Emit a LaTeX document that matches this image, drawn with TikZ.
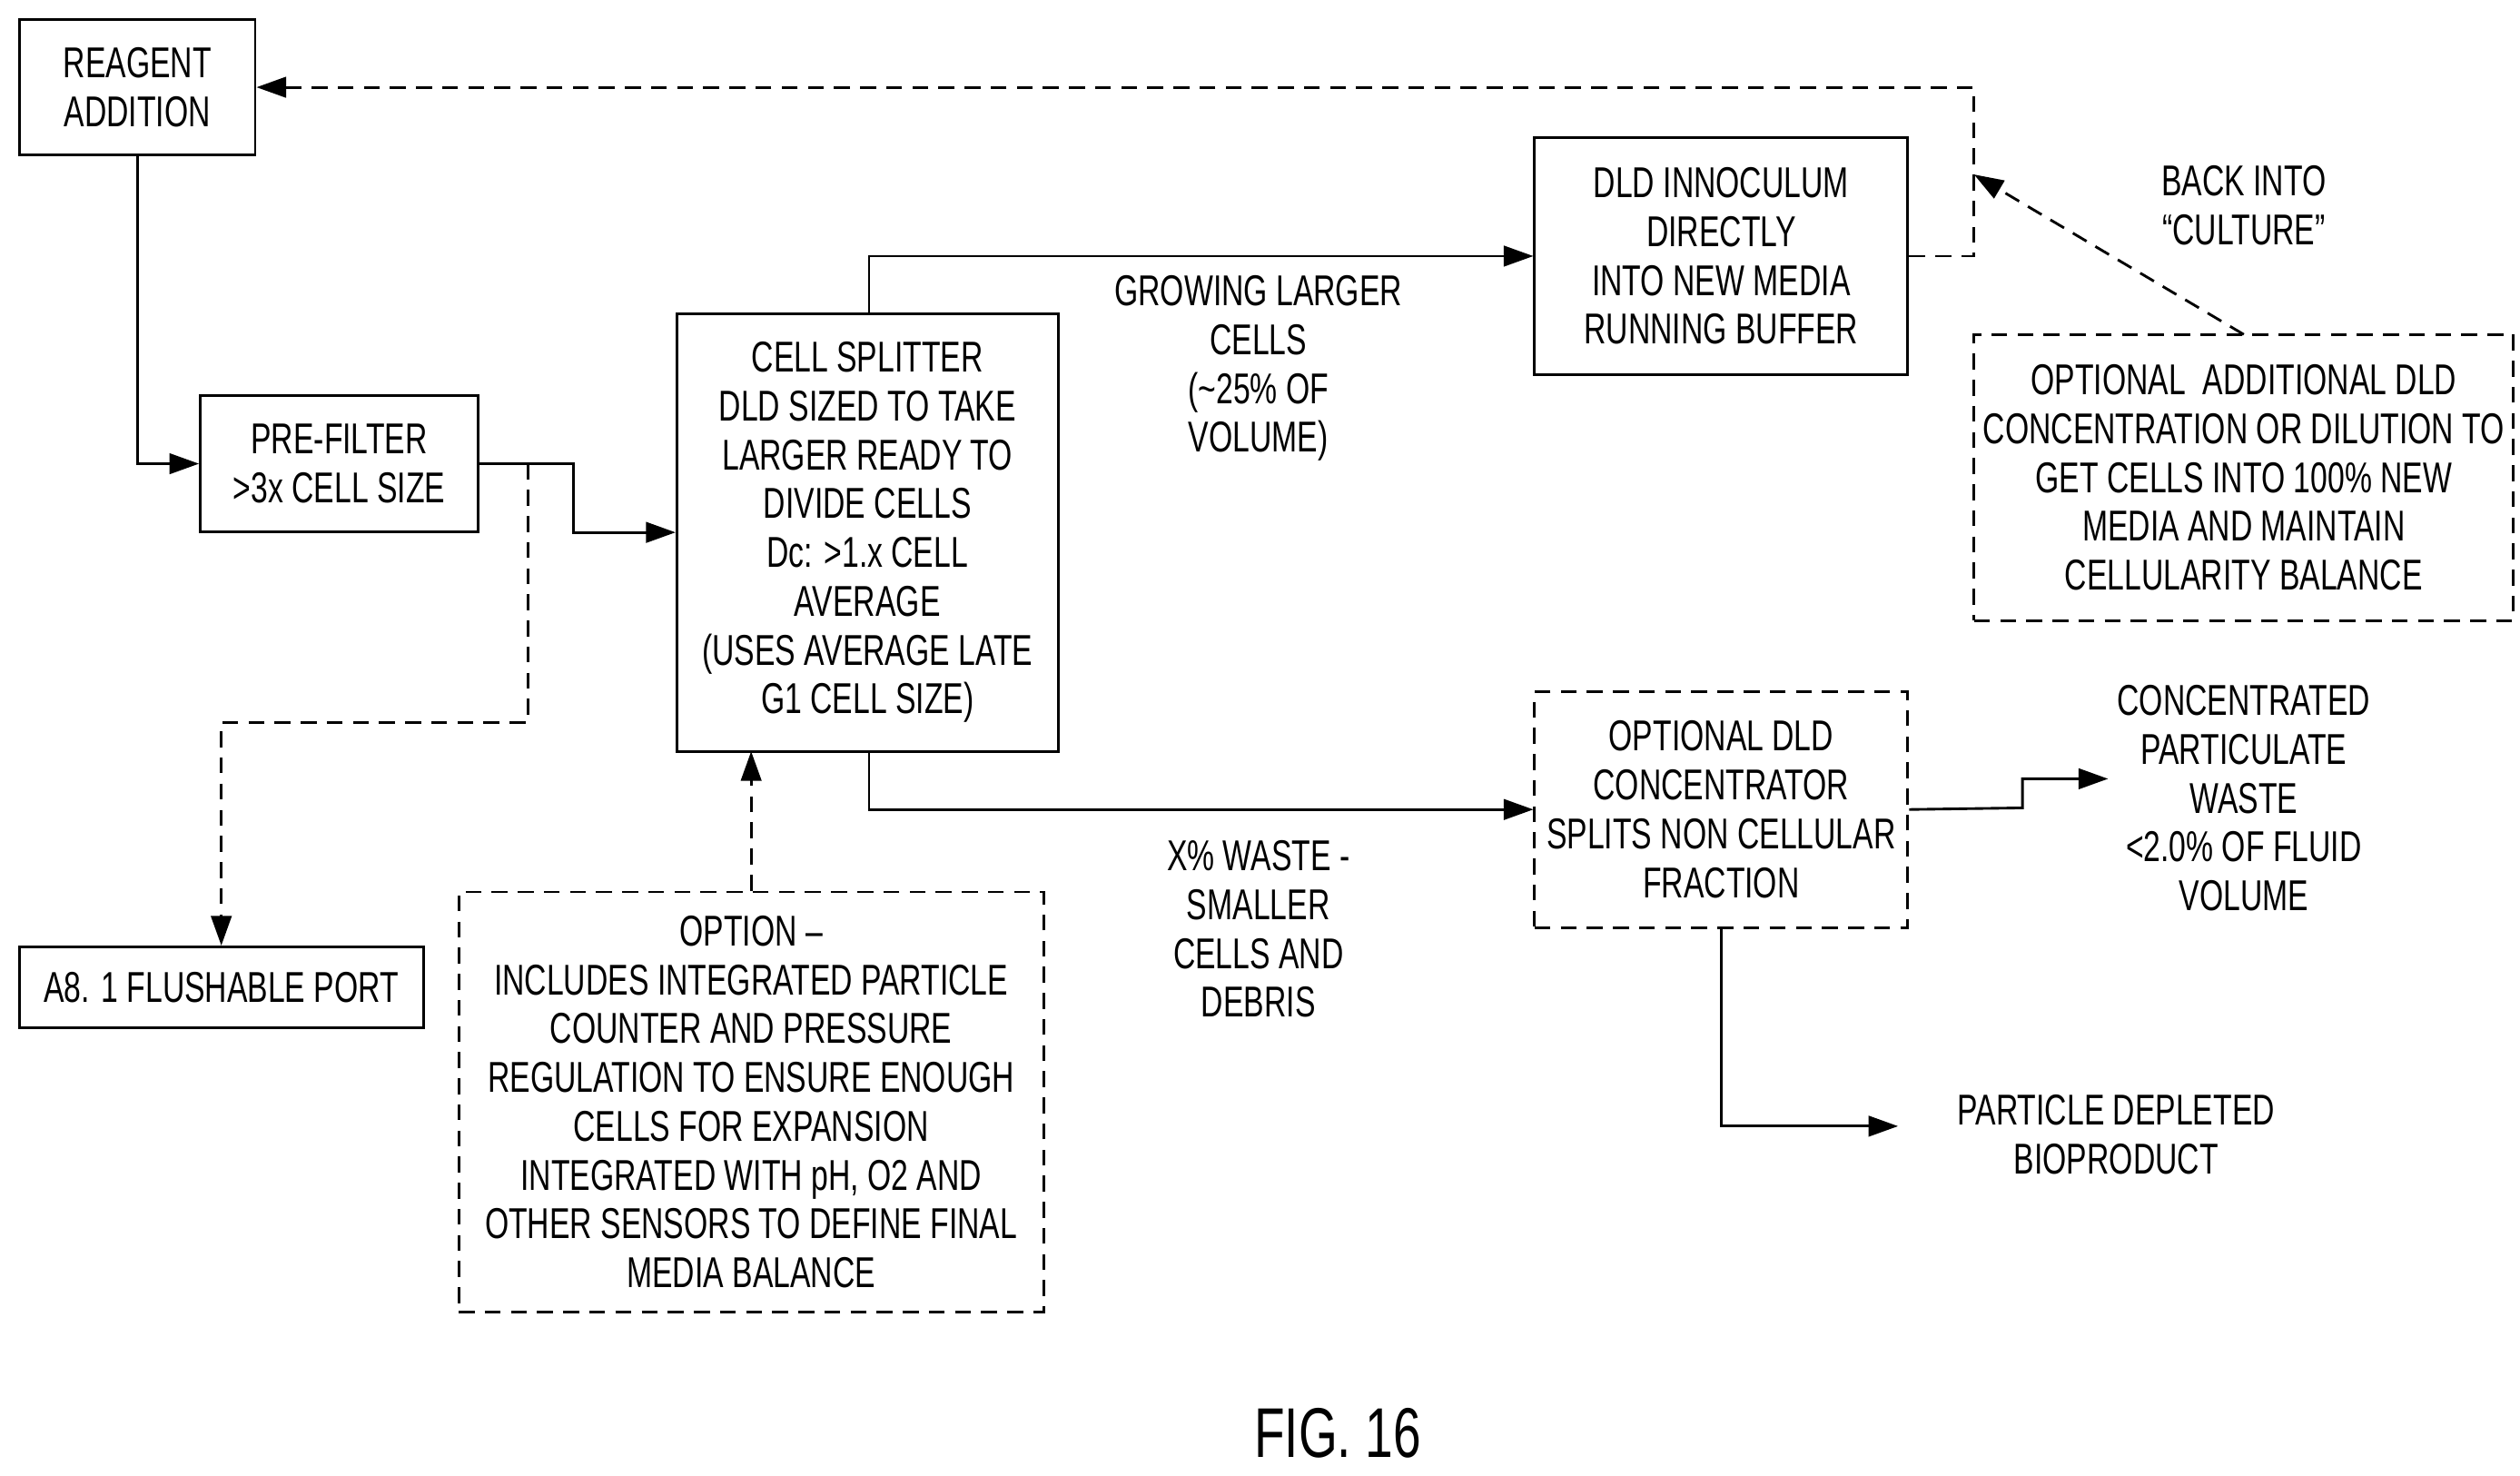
\documentclass[tikz,border=0pt]{standalone}
\usepackage{fontspec}
\setmainfont{Liberation Sans}[FakeStretch=0.71]
\usetikzlibrary{arrows.meta}
\begin{document}
\begin{tikzpicture}[x=0.05cm,y=-0.05cm,
  every node/.style={font=\fontsize{38}{43}\selectfont,align=center,inner sep=0pt},
  box/.style={draw,line width=2.3pt},
  dbox/.style={draw,line width=2.3pt,dashed,dash pattern=on 14pt off 9pt},
  ln/.style={line width=2.3pt,-{Triangle[length=26pt,width=18pt]}},
  dln/.style={ln,dash pattern=on 14pt off 9pt}]
\useasboundingbox (0,0) rectangle (1560,913);
\node[box,minimum width=146*0.05cm,minimum height=84*0.05cm] (rea) at (85,54) {REAGENT\\ADDITION};
\node[box,minimum width=172*0.05cm,minimum height=84*0.05cm] (pre) at (210,287) {PRE-FILTER\\>3x CELL SIZE};
\node[box,minimum width=236*0.05cm,minimum height=271*0.05cm] (spl) at (537,329.5) {CELL SPLITTER\\DLD SIZED TO TAKE\\LARGER READY TO\\DIVIDE CELLS\\Dc: >1.x CELL\\AVERAGE\\(USES AVERAGE LATE\\G1 CELL SIZE)};
\node[box,minimum width=231*0.05cm,minimum height=147*0.05cm] (ino) at (1065.5,158.5) {DLD INNOCULUM\\DIRECTLY\\INTO NEW MEDIA\\RUNNING BUFFER};
\node[dbox,minimum width=334*0.05cm,minimum height=177*0.05cm] (add) at (1389,295.5) {OPTIONAL\ \ ADDITIONAL DLD\\CONCENTRATION OR DILUTION TO\\GET CELLS INTO 100\% NEW\\MEDIA AND MAINTAIN\\CELLULARITY BALANCE};
\node[dbox,minimum width=231*0.05cm,minimum height=146*0.05cm] (con) at (1065.5,501) {OPTIONAL DLD\\CONCENTRATOR\\SPLITS NON CELLULAR\\FRACTION};
\node[box,minimum width=250*0.05cm,minimum height=50*0.05cm] (port) at (137,611) {A8. 1 FLUSHABLE PORT};
\node[dbox,minimum width=362*0.05cm,minimum height=260*0.05cm] (opt) at (465,682) {OPTION --\\INCLUDES INTEGRATED PARTICLE\\COUNTER AND PRESSURE\\REGULATION TO ENSURE ENOUGH\\CELLS FOR EXPANSION\\INTEGRATED WITH pH, O2 AND\\OTHER SENSORS TO DEFINE FINAL\\MEDIA BALANCE};
\node (grow) at (779,228) {GROWING LARGER\\CELLS\\(\textasciitilde 25\% OF\\VOLUME)};
\node (back) at (1389,127) {BACK INTO\\``CULTURE''};
\node (cw) at (1389,494) {CONCENTRATED\\PARTICULATE\\WASTE\\<2.0\% OF FLUID\\VOLUME};
\node (xw) at (779,575) {X\% WASTE -\\SMALLER\\CELLS AND\\DEBRIS};
\node (bio) at (1310,702) {PARTICLE DEPLETED\\BIOPRODUCT};
\node[font=\fontsize{62}{70}\selectfont] (fig) at (828,887) {FIG. 16};
\coordinate (cwin) at (1305,482);
\coordinate (bioin) at (1175,697);
\coordinate (bk) at (1222,108);
\draw[ln] (rea.south) |- (pre.west);
\draw[ln] (pre.east) -- (355,287) |- (spl.west);
\draw[dln] (327,287) -- (327,447) -| (port.north);
\draw[dln] (opt.north) -- (465,465);
\draw[ln] (538,194) |- (ino.west);
\draw[ln] (538,465) |- (con.west);
\draw[dln] (ino.east) -| (1222,54) -- (rea.east);
\draw[dln] (1389,207) -- (bk);
\draw[ln] (con.east) -- (1252,500) |- (cwin);
\draw[ln] (con.south) |- (bioin);
\end{tikzpicture}
\end{document}
